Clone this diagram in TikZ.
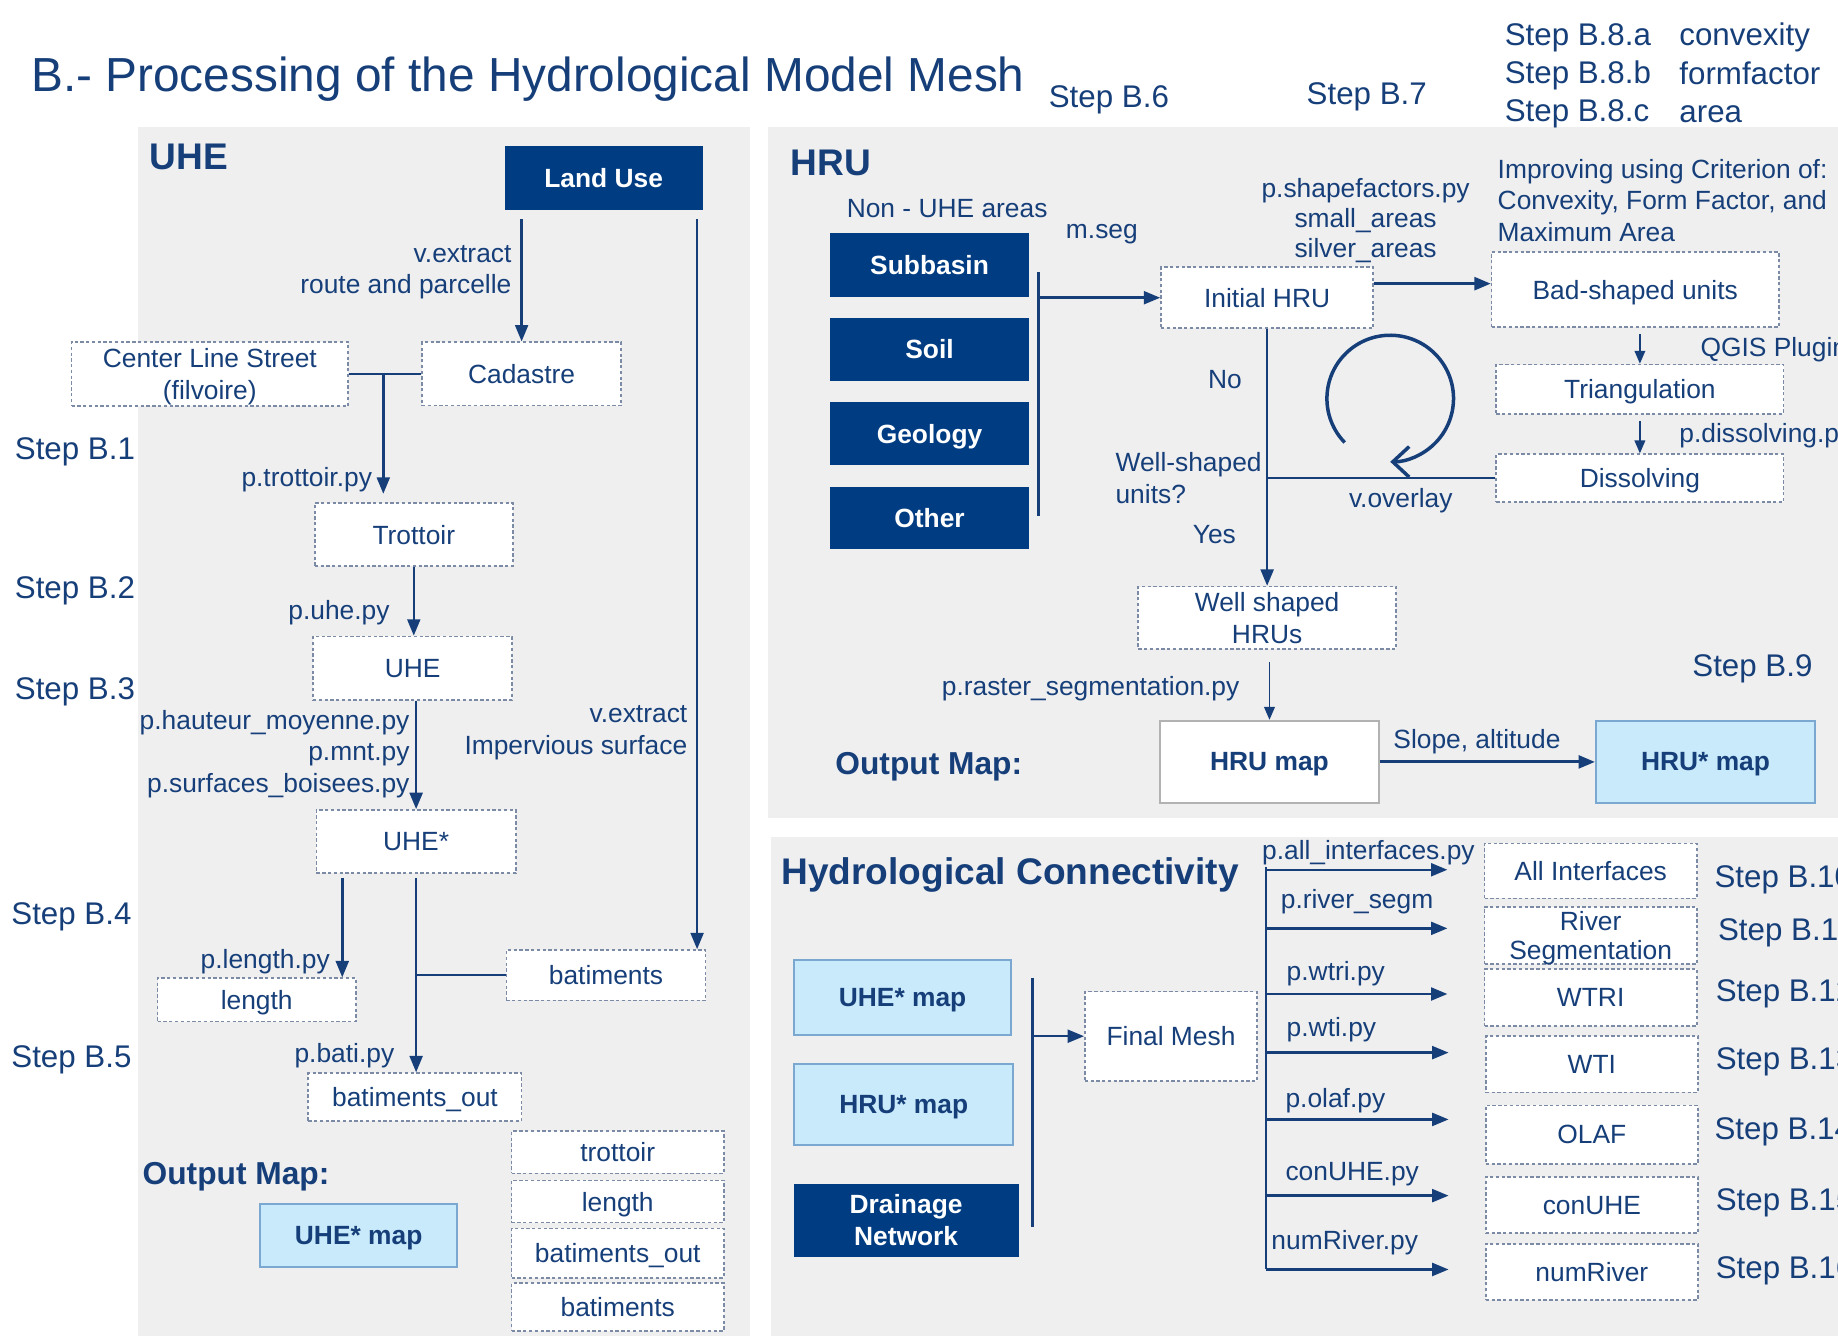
\documentclass[tikz,border=0pt]{standalone}
\usepackage{fontspec}
\setmainfont{Liberation Sans}
\usetikzlibrary{arrows.meta,positioning}
\definecolor{navy}{HTML}{163F7A}
\definecolor{darkblue}{HTML}{003C82}
\definecolor{lightblue}{HTML}{C9EAFB}
\definecolor{lightedge}{HTML}{7AA8D0}
\definecolor{panelgray}{HTML}{EFEFF0}
\definecolor{dotgray}{HTML}{7C8BA5}
\newcommand\txtsz{\fontsize{6.4}{7.7}\selectfont}
\newcommand\stepsz{\fontsize{7.6}{9.3}\selectfont}
\newcommand\headsz{\fontsize{9}{11}\selectfont\bfseries}
\newcommand\outsz{\fontsize{7.7}{9}\selectfont\bfseries}
\tikzset{
  lbl/.style={text=navy,font=\txtsz,inner sep=0pt,text depth=0pt},
  steplbl/.style={text=navy,font=\stepsz,inner sep=0pt,anchor=west,text depth=0pt},
  heading/.style={text=navy,font=\headsz,inner sep=0pt,anchor=west,text depth=0pt},
  outlbl/.style={text=navy,font=\outsz,inner sep=0pt,anchor=west,text depth=0pt},
  sz/.style 2 args={minimum width=#1mm,minimum height=#2mm,inner sep=0pt,align=center,text depth=0pt},
  wbox/.style={fill=white,draw=dotgray,line width=0.4pt,dash pattern=on 0.8pt off 0.6pt,text=navy,font=\txtsz},
  darkbox/.style={fill=darkblue,text=white,font=\txtsz\bfseries},
  lightbox/.style={fill=lightblue,draw=lightedge,line width=0.5pt,text=navy,font=\txtsz\bfseries},
  mapbox/.style={fill=white,draw=black!30,line width=0.5pt,text=navy,font=\txtsz\bfseries},
  link/.style={draw=navy,line width=0.6pt},
  arr/.style={link,-{Triangle[length=1.4mm,width=1.1mm]}},
  thinarr/.style={draw=navy,line width=0.45pt,-{Triangle[length=1.1mm,width=0.9mm]}}
}
\begin{document}
\begin{tikzpicture}[x=0.1mm,y=-0.1mm]
\useasboundingbox (0,0) rectangle (1568,1140);
\clip (0,0) rectangle (1568,1140);
\fill[white] (0,0) rectangle (1568,1140);
\fill[panelgray] (118,108) rectangle (640,1140);
\fill[panelgray] (655,108) rectangle (1568,698);
\fill[panelgray] (658,714) rectangle (1568,1140);

\node[anchor=west,inner sep=0pt,text depth=0pt,text=navy,font=\fontsize{11.6}{13}\selectfont] (title) at (26,63) {B.- Processing of the Hydrological Model Mesh};
\node[steplbl,anchor=center] (stepsix) at (946,82) {Step B.6};
\node[steplbl,anchor=center] (stepseven) at (1166,80) {Step B.7};
\node[steplbl,align=left] (stepeight) at (1283,62) {Step B.8.a\\Step B.8.b\\Step B.8.c};
\node[steplbl,align=left] (criteria) at (1432,62) {convexity\\formfactor\\area};

\node[heading] (uhehead) at (127,134) {UHE};
\node[darkbox,sz={16.9}{5.5}] (landuse) at (515,152) {Land Use};
\node[wbox,sz={17}{5.4}] (cadastre) at (445,319) {Cadastre};
\node[wbox,sz={23.6}{5.5}] (cls) at (179,319) {Center Line Street\\(filvoire)};
\node[wbox,sz={16.9}{5.4}] (trottoir) at (353,456) {Trottoir};
\node[wbox,sz={17}{5.4}] (uhe) at (352,570) {UHE};
\node[wbox,sz={17}{5.4}] (uhestar) at (355,718) {UHE*};
\node[wbox,sz={16.9}{3.7}] (length) at (219,853) {length};
\node[wbox,sz={17}{4.3}] (batiments) at (517,832) {batiments};
\node[wbox,sz={18.2}{4.1}] (batout) at (354,936) {batiments\_out};
\node[outlbl] (uheout) at (121,1001) {Output Map:};
\node[lightbox,sz={16.8}{5.3}] (uhemap) at (306,1054) {UHE* map};
\node[wbox,sz={18.1}{3.6}] (outtrottoir) at (527,983) {trottoir};
\node[wbox,sz={18.1}{3.6}] (outlength) at (527,1025) {length};
\node[wbox,sz={18.1}{4.2}] (outbatout) at (527,1069) {batiments\_out};
\node[wbox,sz={18.1}{4.1}] (outbat) at (527,1115) {batiments};

\draw[arr,shorten <=2pt] (landuse.south -| cadastre.north) -- (cadastre.north);
\coordinate (imp) at ([xshift=-0.8mm]batiments.north east);
\draw[arr,shorten <=2pt] (imp |- landuse.south) -- (imp);
\draw[link] (cls.east) -- (cadastre.west);
\coordinate (jcls) at (327,320);
\draw[arr,shorten >=2pt] (jcls) -- (jcls |- trottoir.north);
\draw[arr] (trottoir.south) -- (trottoir.south |- uhe.north);
\draw[arr] (uhestar.north |- uhe.south) -- (uhestar.north);
\coordinate (jlen) at ([xshift=-6.3mm]uhestar.south);
\draw[arr,shorten <=1pt] (jlen) -- (jlen |- length.north);
\draw[arr,shorten <=1pt] (uhestar.south) -- (uhestar.south |- batout.north);
\draw[link] (batiments.west) -- (batiments.west -| uhestar.south);

\node[lbl,anchor=east,align=right] (vextract) at (437,230) {v.extract\\route and parcelle};
\node[lbl,anchor=east,align=right] (vimperv) at (587,623) {v.extract\\Impervious surface};
\node[lbl,anchor=east] (ptrottoir) at (318,407) {p.trottoir.py};
\node[lbl,anchor=east] (puhe) at (333,520) {p.uhe.py};
\node[lbl,anchor=east,align=right] (phauteur) at (350,641) {p.hauteur\_moyenne.py\\p.mnt.py\\p.surfaces\_boisees.py};
\node[lbl,anchor=east] (plength) at (282,818) {p.length.py};
\node[lbl,anchor=east] (pbati) at (337,898) {p.bati.py};
\node[steplbl] (bone) at (12,383) {Step B.1};
\node[steplbl] (btwo) at (12,501) {Step B.2};
\node[steplbl] (bthree) at (12,587) {Step B.3};
\node[steplbl] (bfour) at (9,779) {Step B.4};
\node[steplbl] (bfive) at (9,901) {Step B.5};

\node[heading] (hruhead) at (674,139) {HRU};
\node[lbl] (nonuhe) at (808,178) {Non - UHE areas};
\node[darkbox,sz={17}{5.4}] (subbasin) at (793,226) {Subbasin};
\node[darkbox,sz={17}{5.4}] (soil) at (793,298) {Soil};
\node[darkbox,sz={17}{5.4}] (geology) at (793,370) {Geology};
\node[darkbox,sz={17}{5.3}] (other) at (793,442) {Other};
\node[wbox,sz={18.1}{5.2}] (initial) at (1081,254) {Initial HRU};
\node[wbox,sz={24.5}{6.4}] (bad) at (1395,247) {Bad-shaped units};
\node[wbox,sz={24.5}{4.2}] (tri) at (1399,332) {Triangulation};
\node[wbox,sz={24.5}{4.1}] (dis) at (1399,408) {Dissolving};
\node[wbox,sz={22}{5.3}] (well) at (1081,527) {Well shaped\\HRUs};
\node[outlbl] (hruout) at (712,651) {Output Map:};
\node[mapbox,sz={18.7}{7}] (hrumap) at (1083,650) {HRU map};
\node[lightbox,sz={18.7}{7}] (hrustar) at (1455,650) {HRU* map};

\coordinate (brtop) at (886,232);
\coordinate (brbot) at (886,440);
\draw[link] (brtop) -- (brbot);
\draw[arr] (brtop |- initial.west) -- (initial.west);
\draw[arr,line width=0.7pt] ([yshift=1.2mm]initial.east) -- ([yshift=1.2mm]initial.east -| bad.west);
\draw[thinarr,shorten <=1.5pt] (tri.north |- bad.south) -- (tri.north);
\draw[thinarr,shorten <=1.5pt] (tri.south) -- (dis.north);
\draw[link] (dis.west) -- (dis.west -| initial.south);
\draw[arr] (initial.south) -- (initial.south |- well.north);
\draw[thinarr,shorten <=3pt] (well.south -| hrumap.north) -- (hrumap.north);
\draw[arr,line width=0.7pt] (hrumap.east) -- (hrustar.west);
\coordinate (loopc) at (1186,340);
\draw[draw=navy,line width=0.85pt,-{Straight Barb[length=1.4mm,width=2.6mm]}] ([shift={(224:5.4mm)}]loopc) arc[start angle=224,end angle=-90,radius=5.4mm];

\node[lbl] (mseg) at (940,197) {m.seg};
\node[lbl,align=center,font=\fontsize{6.4}{7.3}\selectfont] (shapef) at (1165,186) {p.shapefactors.py\\small\_areas\\silver\_areas};
\node[lbl,anchor=west,align=left] (improving) at (1277,171) {Improving using Criterion of:\\Convexity, Form Factor, and\\Maximum Area};
\node[lbl,anchor=west] (qgis) at (1450,296) {QGIS Plugin};
\node[lbl,anchor=west] (pdiss) at (1432,369) {p.dissolving.py};
\node[lbl] (no) at (1045,324) {No};
\node[lbl,anchor=west,align=left] (wellq) at (951,408) {Well-shaped\\units?};
\node[lbl] (yes) at (1036,456) {Yes};
\node[lbl] (voverlay) at (1195,425) {v.overlay};
\node[lbl,anchor=east] (praster) at (1058,585) {p.raster\_segmentation.py};
\node[lbl] (slope) at (1260,630) {Slope, altitude};
\node[steplbl,anchor=center] (bnine) at (1495,568) {Step B.9};

\node[heading] (conhead) at (666,743) {Hydrological Connectivity};
\node[lightbox,sz={18.5}{6.4}] (uhemaptwo) at (770,851) {UHE* map};
\node[lightbox,sz={18.7}{6.9}] (hrumaptwo) at (771,942) {HRU* map};
\node[darkbox,sz={19.2}{6.2}] (drainage) at (773,1041) {Drainage\\Network};
\node[wbox,sz={14.7}{7.6}] (final) at (999,884) {Final Mesh};
\node[wbox,sz={18.1}{4.7}] (allint) at (1357,743) {All Interfaces};
\node[wbox,sz={18.1}{4.9},font=\fontsize{6.4}{7.1}\selectfont] (riverseg) at (1357,798) {River\\Segmentation};
\node[wbox,sz={18.1}{4.9}] (wtri) at (1357,851) {WTRI};
\node[wbox,sz={18.1}{4.8}] (wti) at (1358,908) {WTI};
\node[wbox,sz={18.1}{5}] (olaf) at (1358,968) {OLAF};
\node[wbox,sz={18.1}{4.8}] (conuhe) at (1358,1028) {conUHE};
\node[wbox,sz={18.1}{4.8}] (numriver) at (1358,1085) {numRiver};

\coordinate (brtoptwo) at (881,834);
\coordinate (brbottwo) at (881,1047);
\draw[link] (brtoptwo) -- (brbottwo);
\draw[arr] (brtoptwo |- final.west) -- (final.west);
\coordinate (trunktop) at (1080,740);
\coordinate (trunkbot) at (1080,1083);
\draw[link] (trunktop) -- (trunkbot);
\foreach \b/\dy in {allint/0.1,riverseg/0.6,wtri/0.3,wti/1.0,olaf/1.3,conuhe/0.8,numriver/0.2}{
  \coordinate (t\b) at ([xshift=-3.1mm,yshift=\dy mm]\b.west);
  \draw[arr] (t\b -| trunktop) -- (t\b);
}

\node[lbl,anchor=west] (pallint) at (1076,725) {p.all\_interfaces.py};
\node[lbl,anchor=west] (priver) at (1092,767) {p.river\_segm};
\node[lbl,anchor=west] (pwtri) at (1097,828) {p.wtri.py};
\node[lbl,anchor=west] (pwti) at (1097,876) {p.wti.py};
\node[lbl,anchor=west] (polaf) at (1096,937) {p.olaf.py};
\node[lbl,anchor=west] (pconuhe) at (1096,999) {conUHE.py};
\node[lbl,anchor=west] (pnumriver) at (1084,1058) {numRiver.py};
\node[steplbl] (bten) at (1462,748) {Step B.10};
\node[steplbl] (beleven) at (1465,793) {Step B.11};
\node[steplbl] (btwelve) at (1463,845) {Step B.12};
\node[steplbl] (bthirteen) at (1463,903) {Step B.13};
\node[steplbl] (bfourteen) at (1462,963) {Step B.14};
\node[steplbl] (bfifteen) at (1463,1023) {Step B.15};
\node[steplbl] (bsixteen) at (1463,1081) {Step B.16};
\end{tikzpicture}
\end{document}
